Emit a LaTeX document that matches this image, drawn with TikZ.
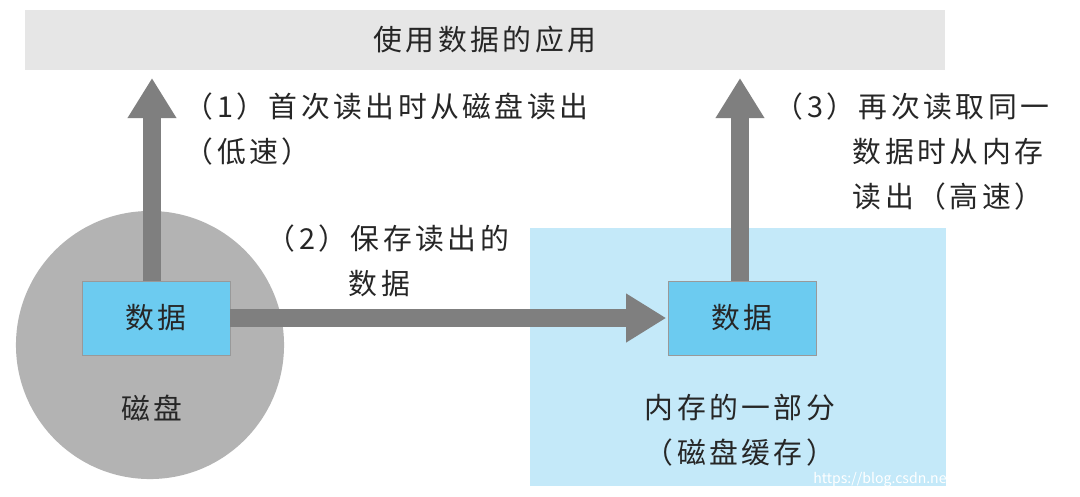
\documentclass[tikz,border=0pt]{standalone}
\usepackage{fontspec}
\setmainfont{Noto Sans CJK SC}[LetterSpace=12]
\newfontfamily\wmfont{Noto Sans CJK SC}
\usetikzlibrary{arrows.meta}
\definecolor{bargray}{HTML}{E6E6E6}
\definecolor{diskgray}{HTML}{B3B3B3}
\definecolor{boxblue}{HTML}{6CCBF0}
\definecolor{memblue}{HTML}{C4E9F9}
\definecolor{arrgray}{HTML}{7F7F7F}
\tikzset{
  px/.style={x=0.025cm,y=-0.025cm},
  txt/.style={font=\fontsize{20.5}{32}\selectfont, text=black!85},
  databox/.style={draw=black!40, line width=0.5pt, fill=boxblue, minimum width=3.7cm, minimum height=1.85cm, txt},
  bigarrow/.style={draw=arrgray, line width=0.45cm, -{Triangle[width=1.15cm,length=1cm]}},
}
\begin{document}
\begin{tikzpicture}[px]
\useasboundingbox (0,0) rectangle (1080,496);
\fill[white] (0,0) rectangle (1080,496);
\node[fill=bargray, minimum width=23cm, minimum height=1.5cm, txt] (app) at (485,40) {使用数据的应用};
\fill[diskgray] (150,345) circle (3.35cm);
\node[txt] (disk) at (152,408) {磁盘};
\node[fill=memblue, minimum width=10.4cm, minimum height=6.45cm, inner sep=0] (mem) at (738,357) {};
\node[databox] (d1) at (156,318) {数据};
\node[databox] (d2) at (742,318) {数据};
\node[txt, align=center] (memlbl) at (740,430) {内存的一部分\\（磁盘缓存）};
\coordinate (t1) at (152,78);
\coordinate (t2) at (740,78);
\draw[bigarrow] (152,281) -- (t1);
\draw[bigarrow] (740,281) -- (t2);
\draw[bigarrow] (d1.east) -- ([xshift=-1pt]d2.west);
\node[txt, anchor=north west, align=left] (l1) at (180,88) {（1）首次读出时从磁盘读出\\（低速）};
\node[txt, anchor=north west, align=left] (l2) at (262,220) {（2）保存读出的\\\hspace*{2.05cm}数据};
\node[txt, anchor=north west, align=left] (l3) at (770,88) {（3）再次读取同一\\\hspace*{1.95cm}数据时从内存\\\hspace*{1.95cm}读出（高速）};
\node[font=\wmfont\fontsize{10}{11}\selectfont, text=white, anchor=south east] (wm) at (1075,492) {https://blog.csdn.net/weixin\_50260670};
\end{tikzpicture}
\end{document}
